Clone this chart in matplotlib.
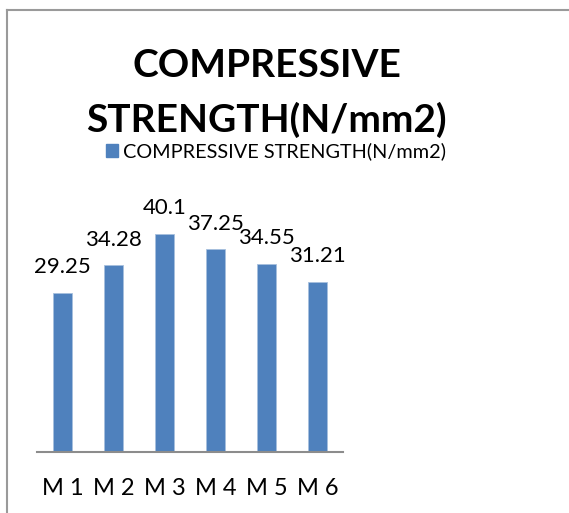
import matplotlib.pyplot as plt
from matplotlib.lines import Line2D
from matplotlib.patches import Rectangle

plt.rcParams['font.family'] = ['Lato', 'DejaVu Sans']

# Compressive strength of each mix
mixes = ['M 1', 'M 2', 'M 3', 'M 4', 'M 5', 'M 6']
strength = [29.25, 34.28, 40.1, 37.25, 34.55, 31.21]
series_name = 'COMPRESSIVE STRENGTH(N/mm2)'

W, H = 569, 513
fig = plt.figure(figsize=(W / 100, H / 100), dpi=100)

# chart area frame: only the top and left edges fall inside the image
frame_kw = dict(transform=fig.transFigure, color='#9a9a9a', linewidth=1.5)
fig.lines.append(Line2D([7 / W, 1.1], [1 - 10 / H, 1 - 10 / H], **frame_kw))
fig.lines.append(Line2D([7 / W, 7 / W], [-0.1, 1 - 10 / H], **frame_kw))

ax = fig.add_axes([37 / W, 1 - 451.7 / H, 306 / W, 271.7 / H])
bar_color = '#4f81bd'
x = range(len(mixes))
bars = ax.bar(x, strength, width=0.39, color=bar_color, edgecolor='#a7c0de',
              linewidth=0.6)
ax.set_xlim(-0.5, len(mixes) - 0.5)
ax.set_ylim(0, 50)

for b, v in zip(bars, strength):
    ax.annotate(f'{v:g}', (b.get_x() + b.get_width() / 2, v),
                xytext=(0, 18.5), textcoords='offset points',
                ha='center', va='center', fontsize=16)

ax.set_xticks(list(x))
ax.set_xticklabels(mixes, fontsize=17)
ax.tick_params(axis='x', length=0, pad=19)
ax.set_yticks([])
for side in ['top', 'left', 'right']:
    ax.spines[side].set_visible(False)
ax.spines['bottom'].set_color('#8c8c8c')
ax.spines['bottom'].set_linewidth(1.5)

# title, two lines
fig.text(267 / W, 1 - 77 / H, 'COMPRESSIVE', ha='center', va='baseline',
         fontsize=28, fontweight='bold')
fig.text(266 / W, 1 - 132 / H, 'STRENGTH(N/mm2)', ha='center', va='baseline',
         fontsize=28, fontweight='bold')

# legend entry
fig.patches.append(Rectangle((106 / W, 1 - 157 / H), 12 / W, 13 / H,
                             transform=fig.transFigure, color=bar_color))
fig.text(123 / W, 1 - 157 / H, series_name, ha='left', va='baseline',
         fontsize=14.3)

fig.savefig('out.png', dpi=100)
